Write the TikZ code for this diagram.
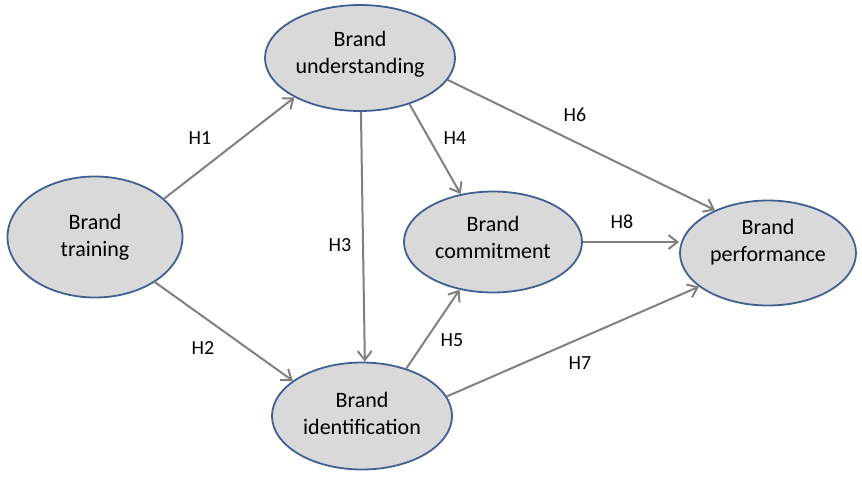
\documentclass[tikz,border=0pt]{standalone}
\usepackage{fontspec}
\setmainfont{Carlito}
\usetikzlibrary{shapes.geometric,arrows.meta}
\definecolor{rimblue}{RGB}{65,95,145}
\begin{document}
\begin{tikzpicture}[x=1pt,y=-1pt,
  construct/.style={ellipse, draw=rimblue, line width=1.8pt, fill=black!15, inner sep=0pt, align=center, font=\fontsize{22}{27}\selectfont},
  path/.style={draw=black!50, line width=2pt, -{Straight Barb[length=9pt,width=14pt,line width=2pt]}},
  hyp/.style={font=\fontsize{20}{24}\selectfont}]
\useasboundingbox (0,0) rectangle (862,480);

\node[construct, minimum width=190, minimum height=106, text depth=11pt] (und) at (360,58) {Brand\\understanding};
\node[construct, minimum width=175, minimum height=121] (train) at (95,237) {Brand\\training};
\node[construct, minimum width=178, minimum height=101, text depth=10pt] (comm) at (493,242) {Brand\\commitment};
\node[construct, minimum width=176, minimum height=105, text depth=26pt] (perf) at (768,253) {Brand\\performance};
\node[construct, minimum width=180, minimum height=107, text depth=6pt] (ident) at (362,416) {Brand\\identification};

\draw[path] (train.29) -- (und.211);
\draw[path] (train.-37) -- (ident.153);
\draw[path] (und.271) -- (ident.87);
\draw[path] (und.-43) -- (comm.124);
\draw[path] (ident.47) -- (comm.235);
\draw[path] (und.-14) -- (perf.141);
\draw[path] (ident.13) -- (perf.206);
\draw[path] (comm.east) -- (comm.east -| perf.west);

\node[hyp] (h1) at (200,138) {H1};
\node[hyp] (h2) at (203,348) {H2};
\node[hyp] (h3) at (340,245) {H3};
\node[hyp] (h4) at (455,138) {H4};
\node[hyp] (h5) at (452,340) {H5};
\node[hyp] (h6) at (575,115) {H6};
\node[hyp] (h7) at (580,363) {H7};
\node[hyp] (h8) at (622,222) {H8};
\end{tikzpicture}
\end{document}
